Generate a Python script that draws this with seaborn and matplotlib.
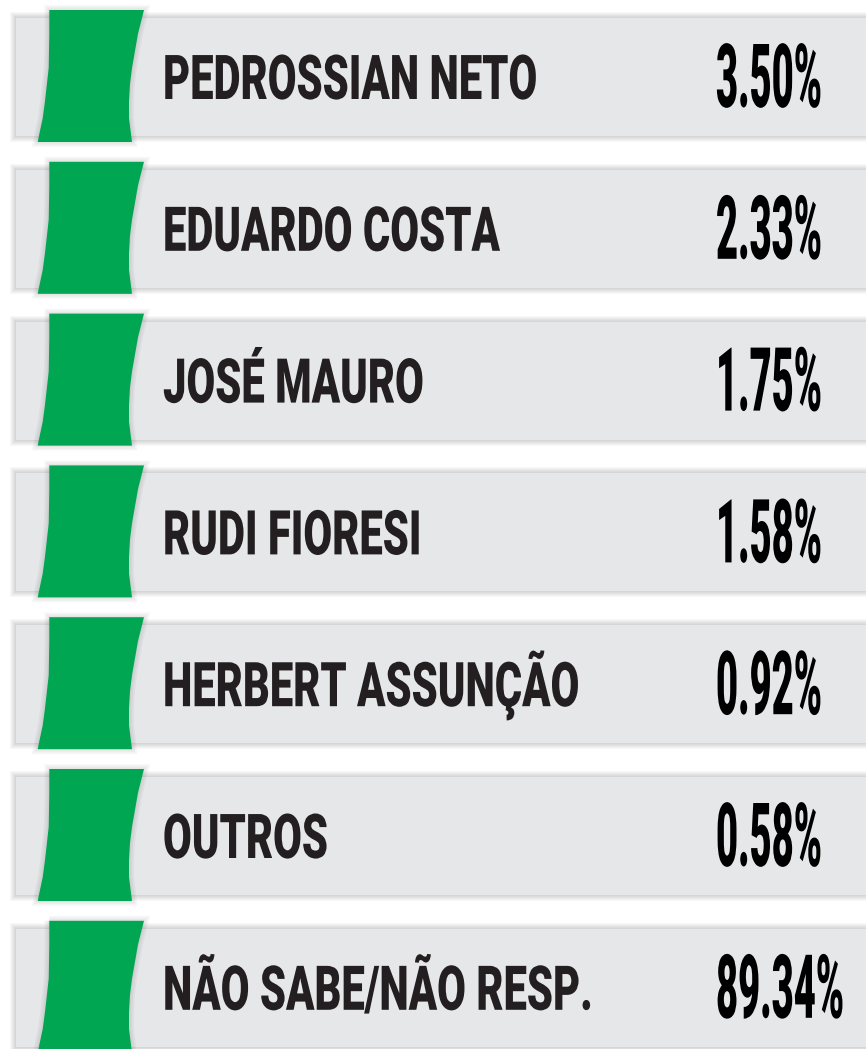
import numpy as np
import pandas as pd
import matplotlib
matplotlib.use("Agg")
import matplotlib.pyplot as plt
import seaborn as sns
from matplotlib.patches import Polygon, Rectangle
from matplotlib.patheffects import AbstractPathEffect
from matplotlib.transforms import Affine2D

# ---------------- data ----------------
candidates = ["PEDROSSIAN NETO", "EDUARDO COSTA", "JOSÉ MAURO", "RUDI FIORESI",
              "HERBERT ASSUNÇÃO", "OUTROS", "NÃO SABE/NÃO RESP."]
shares = [3.50, 2.33, 1.75, 1.58, 0.92, 0.58, 89.34]
share_labels = [f"{v:.2f}%" for v in shares]

# ---------------- style / layout (pixels) ----------------
W, H = 866, 1049
PITCH = 151.8          # row pitch
ROW0 = 77              # centre of first row
PANEL_LEFT = 16
PANEL_H = 118
LABEL_X, NUM_X = 163, 716
LABEL_BASE, NUM_BASE = 22, 30
LABEL_TARGET_W, NUM_TARGET_W = 374, 106
LABEL_CAP_SIZE, NUM_CAP_SIZE = 44.5, 63.8   # font size giving the drawn glyph height
GRAY = "#e6e7e8"
GREEN = "#00a651"
INK = "#231f20"

sns.set_theme(style="white")
plt.rcParams["font.family"] = ["Roboto", "DejaVu Sans"]

fig = plt.figure(figsize=(W / 100, H / 100), dpi=100)
fig.patch.set_facecolor("white")
ax = fig.add_axes([0, 0, 1, 1])

df = pd.DataFrame({"candidate": candidates, "share": shares})
df["panel"] = W + 40  # grey panel runs past the right edge

sns.barplot(data=df, x="panel", y="candidate", orient="h", color=GRAY,
            saturation=1, width=PANEL_H / PITCH, errorbar=None,
            linewidth=0, zorder=2, ax=ax)

ax.set_xlim(-PANEL_LEFT, W - PANEL_LEFT)
ax.set_ylim((H - ROW0) / PITCH, -ROW0 / PITCH)
ax.axis("off")

# soft shadows around the grey panels
for bar in list(ax.patches):
    x, y, w, h = bar.get_x(), bar.get_y(), bar.get_width(), bar.get_height()
    for e in range(1, 7):
        ax.add_patch(Rectangle((x - e, y - e / PITCH), w + 2 * e, h + 2 * e / PITCH,
                               facecolor="black", edgecolor="none",
                               alpha=0.028, zorder=1))

# green tabs (curved flag shape)
rt = [0, .18, .31, .44, .56, .69, .82, .94, 1]
rx = [144, 138, 135, 132, 130, 129, 129, 131, 132]
lt = [0, .18, .44, .69, .82, .94, 1]
lx = [49.3, 49.3, 48.7, 45, 42.7, 39.3, 37.7]
tt = np.linspace(0, 1, 40)
left_x = np.interp(tt, lt, lx)
right_x = np.interp(tt, rt, rx)
TAB_TOP, TAB_LEN = -67, 132

for k in range(len(candidates)):
    ys = k + (TAB_TOP + tt * TAB_LEN) / PITCH
    xs = np.concatenate([left_x, right_x[::-1]]) - PANEL_LEFT
    yy = np.concatenate([ys, ys[::-1]])
    pts = np.column_stack([xs, yy])
    for lw in (7, 4.5, 2):
        ax.add_patch(Polygon(pts, closed=True, facecolor="none",
                             edgecolor="black", alpha=0.035, lw=lw, zorder=2.5))
    ax.add_patch(Polygon(pts, closed=True, facecolor=GREEN, edgecolor="none", zorder=3))


class Tall(AbstractPathEffect):
    """Draw text stretched vertically about its baseline (condensed look)."""
    def __init__(self):
        super().__init__()
        self.sy = 1.0
        self.y0 = 0.0

    def draw_path(self, renderer, gc, tpath, affine, rgbFace=None):
        t = Affine2D().translate(0, -self.y0).scale(1, self.sy).translate(0, self.y0)
        renderer.draw_path(gc, tpath, affine + t, rgbFace)


label_texts, num_texts = [], []
label_fx, num_fx = [], []
for k, (name, val) in enumerate(zip(candidates, share_labels)):
    x1, y1 = LABEL_X - PANEL_LEFT, k + LABEL_BASE / PITCH
    fx1 = Tall()
    t1 = ax.text(x1, y1, name, ha="left", va="baseline", fontsize=LABEL_CAP_SIZE,
                 fontweight="black", color=INK, zorder=5, path_effects=[fx1])
    fx1.y0 = ax.transData.transform((x1, y1))[1]
    x2, y2 = NUM_X - PANEL_LEFT, k + NUM_BASE / PITCH
    fx2 = Tall()
    t2 = ax.text(x2, y2, val, ha="left", va="baseline", fontsize=NUM_CAP_SIZE,
                 fontweight="black", color="black", zorder=5, path_effects=[fx2])
    fx2.y0 = ax.transData.transform((x2, y2))[1]
    label_texts.append(t1); num_texts.append(t2)
    label_fx.append(fx1); num_fx.append(fx2)

# shrink the font so the natural width fits, then stretch glyphs back to full height
fig.canvas.draw()
r = fig.canvas.get_renderer()
k_label = LABEL_TARGET_W / label_texts[0].get_window_extent(r).width
k_num = NUM_TARGET_W / num_texts[0].get_window_extent(r).width
for t, f in zip(label_texts, label_fx):
    t.set_fontsize(LABEL_CAP_SIZE * k_label)
    f.sy = 1.0 / k_label
for t, f in zip(num_texts, num_fx):
    t.set_fontsize(NUM_CAP_SIZE * k_num)
    f.sy = 1.0 / k_num

fig.savefig("out.png", dpi=100, facecolor="white")
